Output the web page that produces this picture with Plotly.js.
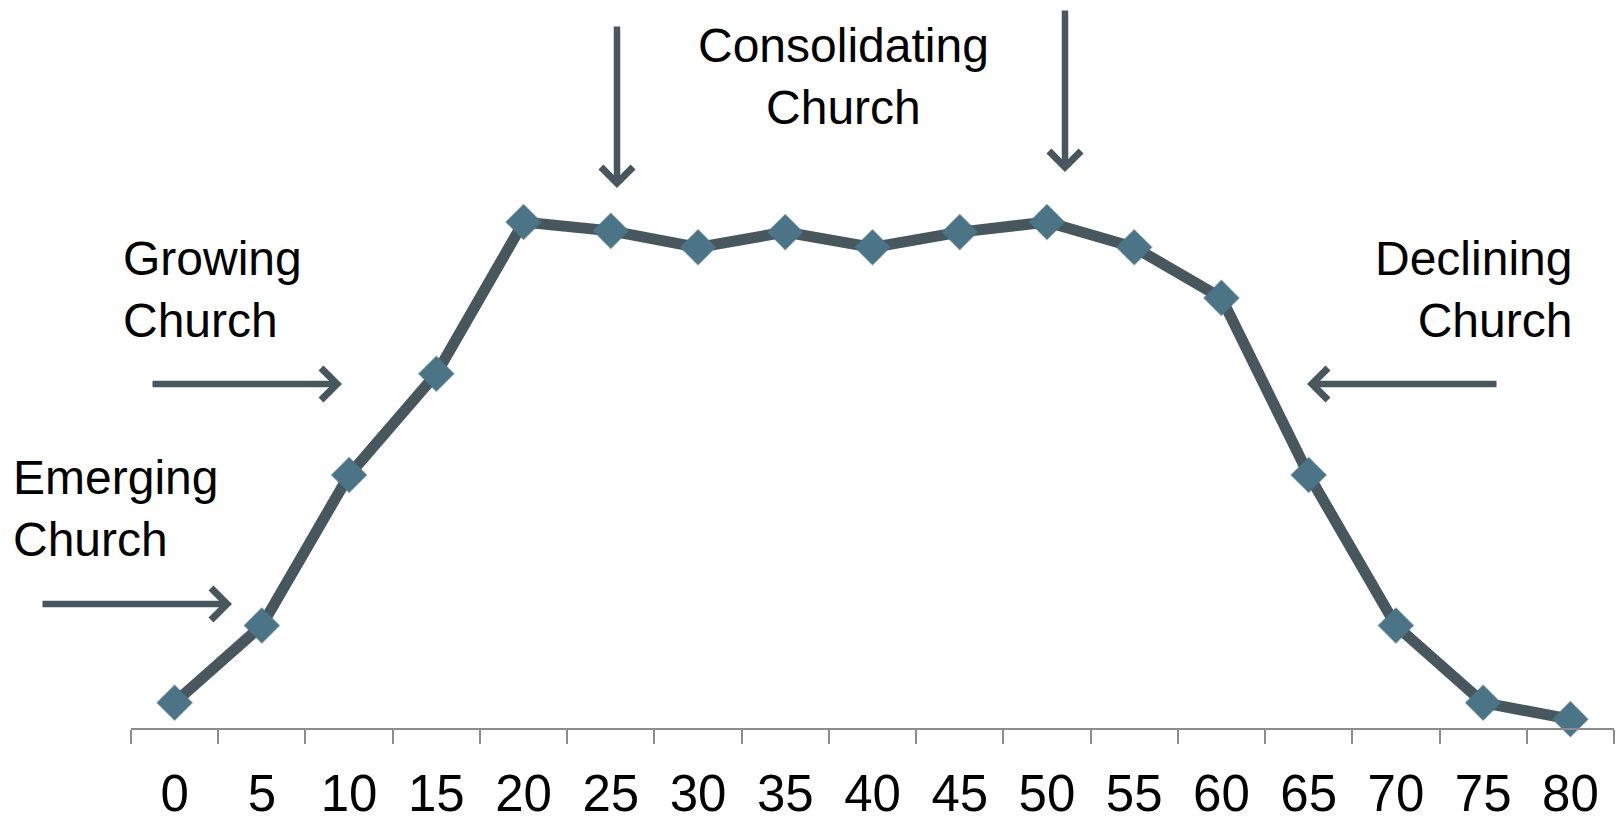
<!DOCTYPE html>
<html>
<head>
<meta charset="utf-8">
<script src="https://cdn.plot.ly/plotly-3.0.1.min.js"></script>
<style>
  html, body { margin: 0; padding: 0; background: #ffffff; }
  #chart { width: 1618px; height: 821px; }
</style>
</head>
<body>
<div id="chart"></div>
<script>
// ---- data ----
const categories = ['0','5','10','15','20','25','30','35','40','45','50','55','60','65','70','75','80'];
const values = [2, 8.1, 20, 28, 40, 39.3, 38, 39.2, 38, 39.2, 40, 38, 34, 20, 8.1, 2, 0.7];
const stageLabels = ['Emerging<br>Church', 'Growing<br>Church', 'Consolidating<br>Church', 'Declining<br>Church'];

// ---- layout helpers (pixel -> paper for decorations) ----
const W = 1618, H = 821;
const M = { l: 131, r: 4, t: 0, b: 93 };
const plotW = W - M.l - M.r, plotH = H - M.t - M.b;
const px = x => (x - M.l) / plotW;
const py = y => (H - M.b - y) / plotH;

const arrowColor = '#48575e';
function arrow(tailX, tailY, tipX, tipY) {
  return {
    xref: 'paper', yref: 'paper',
    x: px(tipX), y: py(tipY),
    ax: tailX - tipX, ay: tailY - tipY,
    axref: 'pixel', ayref: 'pixel',
    text: '', showarrow: true,
    arrowhead: 4, arrowsize: 0.95, arrowwidth: 6.5,
    arrowcolor: arrowColor
  };
}
const labelFont = { family: 'Liberation Sans, Arial, sans-serif', size: 48, color: '#000000' };
function label(text, x, y, xanchor, align) {
  return {
    xref: 'paper', yref: 'paper', x: px(x), y: py(y),
    xanchor: xanchor, yanchor: 'top', align: align,
    text: text, showarrow: false, font: labelFont
  };
}

const trace = {
  type: 'scatter', mode: 'lines+markers',
  x: categories, y: values,
  line: { color: '#48575e', width: 11 },
  marker: { symbol: 'diamond', size: 27, color: '#4b7487', line: { width: 1.5, color: 'rgba(75,116,135,0.45)' } },
  cliponaxis: false, hoverinfo: 'x+y'
};

const layout = {
  width: W, height: H,
  margin: M,
  paper_bgcolor: '#ffffff', plot_bgcolor: '#ffffff',
  showlegend: false,
  xaxis: {
    type: 'category', categoryorder: 'array', categoryarray: categories,
    range: [-0.5, categories.length - 0.5],
    tickson: 'boundaries', ticks: 'outside', ticklen: 14, tickwidth: 2, tickcolor: '#8c8c8c',
    showline: true, linecolor: '#8c8c8c', linewidth: 2,
    showgrid: false, zeroline: false,
    ticklabelstandoff: 20,
    tickfont: { family: 'Liberation Sans, Arial, sans-serif', size: 51, color: '#000000' },
    fixedrange: true
  },
  yaxis: {
    visible: false, range: [0, plotH / 12.65], fixedrange: true,
    showgrid: false, zeroline: false
  },
  annotations: [
    label(stageLabels[0], 11, 449, 'left', 'left'),
    label(stageLabels[1], 121, 230, 'left', 'left'),
    label(stageLabels[2], 843, 17, 'center', 'center'),
    label(stageLabels[3], 1574, 230, 'right', 'right'),
    arrow(41, 604, 232, 604),
    arrow(151, 384, 342, 384),
    arrow(1498, 384, 1307, 384),
    arrow(617, 25, 617, 188),
    arrow(1065, 9, 1065, 172)
  ]
};

Plotly.newPlot('chart', [trace], layout, { displayModeBar: false, staticPlot: true });
</script>
</body>
</html>
